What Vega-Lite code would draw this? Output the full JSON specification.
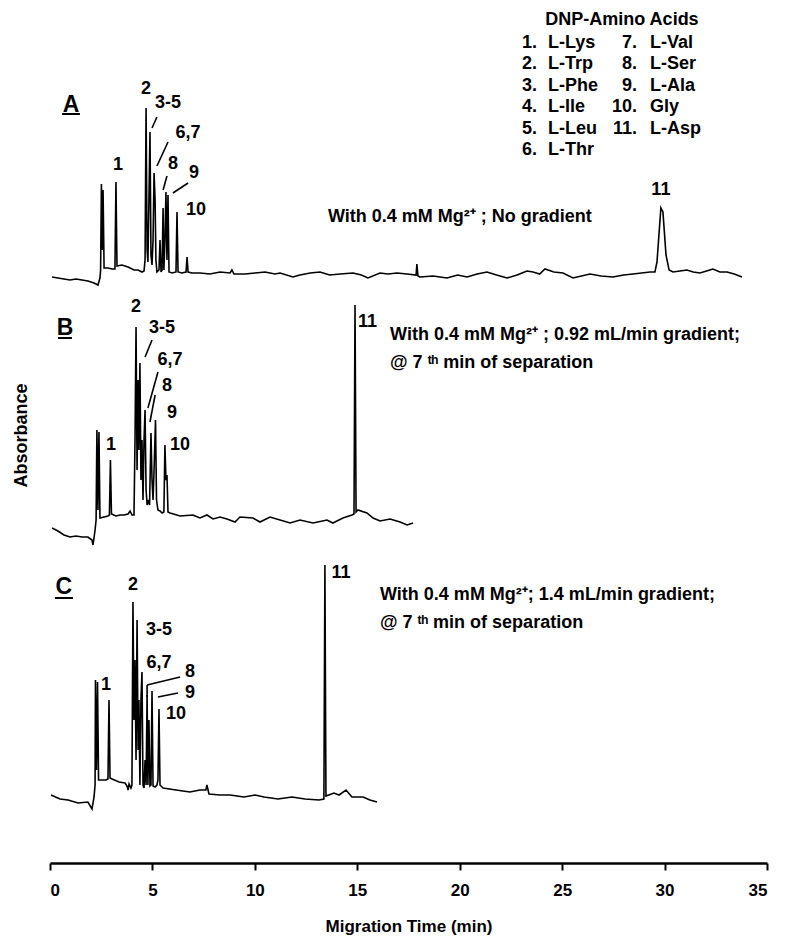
{
  "$schema": "https://vega.github.io/schema/vega-lite/v6.json",
  "width": 717,
  "height": 863,
  "autosize": {"type": "none"},
  "padding": {"left": 50, "top": 0, "right": 19, "bottom": 73},
  "background": "white",
  "config": {
    "view": {"stroke": null},
    "text": {"font": "Liberation Sans", "fontWeight": "bold", "color": "black"}
  },
  "datasets": {
    "trace": [
      {"p":"A","t":0.10,"v":586},{"p":"A","t":0.39,"v":585},{"p":"A","t":0.68,"v":584},{"p":"A","t":0.98,"v":583},{"p":"A","t":1.27,"v":584},{"p":"A","t":1.56,"v":583},{"p":"A","t":1.85,"v":582},{"p":"A","t":2.15,"v":580},{"p":"A","t":2.34,"v":578},{"p":"A","t":2.44,"v":585},{"p":"A","t":2.47,"v":593},{"p":"A","t":2.51,"v":679},{"p":"A","t":2.56,"v":613},{"p":"A","t":2.59,"v":673},{"p":"A","t":2.64,"v":595},{"p":"A","t":2.83,"v":595},{"p":"A","t":3.03,"v":594},{"p":"A","t":3.17,"v":594},{"p":"A","t":3.22,"v":681},{"p":"A","t":3.27,"v":597},{"p":"A","t":3.51,"v":598},{"p":"A","t":3.81,"v":596},{"p":"A","t":4.10,"v":593},{"p":"A","t":4.30,"v":593},{"p":"A","t":4.49,"v":591},{"p":"A","t":4.59,"v":592},{"p":"A","t":4.64,"v":603},{"p":"A","t":4.69,"v":755},{"p":"A","t":4.74,"v":613},{"p":"A","t":4.78,"v":601},{"p":"A","t":4.83,"v":663},{"p":"A","t":4.88,"v":731},{"p":"A","t":4.93,"v":608},{"p":"A","t":4.98,"v":598},{"p":"A","t":5.03,"v":623},{"p":"A","t":5.08,"v":690},{"p":"A","t":5.13,"v":663},{"p":"A","t":5.17,"v":603},{"p":"A","t":5.22,"v":591},{"p":"A","t":5.32,"v":593},{"p":"A","t":5.37,"v":623},{"p":"A","t":5.42,"v":591},{"p":"A","t":5.47,"v":593},{"p":"A","t":5.52,"v":655},{"p":"A","t":5.56,"v":593},{"p":"A","t":5.61,"v":623},{"p":"A","t":5.66,"v":671},{"p":"A","t":5.71,"v":603},{"p":"A","t":5.76,"v":668},{"p":"A","t":5.81,"v":591},{"p":"A","t":5.96,"v":590},{"p":"A","t":6.15,"v":591},{"p":"A","t":6.20,"v":651},{"p":"A","t":6.25,"v":591},{"p":"A","t":6.44,"v":590},{"p":"A","t":6.64,"v":591},{"p":"A","t":6.69,"v":606},{"p":"A","t":6.74,"v":591},{"p":"A","t":6.93,"v":590},{"p":"A","t":7.32,"v":590},{"p":"A","t":7.81,"v":589},{"p":"A","t":8.30,"v":591},{"p":"A","t":8.79,"v":590},{"p":"A","t":8.88,"v":593},{"p":"A","t":8.98,"v":589},{"p":"A","t":9.52,"v":589},{"p":"A","t":10.01,"v":590},{"p":"A","t":10.50,"v":591},{"p":"A","t":10.98,"v":589},{"p":"A","t":11.23,"v":590},{"p":"A","t":11.86,"v":586},{"p":"A","t":12.20,"v":588},{"p":"A","t":12.70,"v":590},{"p":"A","t":13.18,"v":591},{"p":"A","t":13.65,"v":588},{"p":"A","t":14.16,"v":589},{"p":"A","t":14.79,"v":590},{"p":"A","t":15.20,"v":588},{"p":"A","t":15.52,"v":585},{"p":"A","t":16.11,"v":590},{"p":"A","t":16.50,"v":589},{"p":"A","t":16.94,"v":590},{"p":"A","t":17.43,"v":589},{"p":"A","t":17.87,"v":588},{"p":"A","t":17.91,"v":599},{"p":"A","t":17.96,"v":587},{"p":"A","t":18.06,"v":586},{"p":"A","t":18.70,"v":587},{"p":"A","t":19.38,"v":585},{"p":"A","t":19.90,"v":588},{"p":"A","t":20.36,"v":586},{"p":"A","t":20.85,"v":589},{"p":"A","t":21.33,"v":591},{"p":"A","t":21.80,"v":588},{"p":"A","t":22.31,"v":585},{"p":"A","t":22.80,"v":588},{"p":"A","t":23.28,"v":592},{"p":"A","t":23.58,"v":591},{"p":"A","t":23.90,"v":589},{"p":"A","t":24.16,"v":594},{"p":"A","t":24.60,"v":591},{"p":"A","t":25.04,"v":590},{"p":"A","t":25.53,"v":585},{"p":"A","t":26.36,"v":589},{"p":"A","t":26.90,"v":587},{"p":"A","t":27.48,"v":586},{"p":"A","t":28.00,"v":588},{"p":"A","t":28.46,"v":589},{"p":"A","t":29.29,"v":591},{"p":"A","t":29.53,"v":591},{"p":"A","t":29.63,"v":601},{"p":"A","t":29.82,"v":655},{"p":"A","t":29.92,"v":651},{"p":"A","t":30.07,"v":608},{"p":"A","t":30.22,"v":593},{"p":"A","t":30.41,"v":591},{"p":"A","t":30.75,"v":592},{"p":"A","t":31.09,"v":593},{"p":"A","t":31.40,"v":591},{"p":"A","t":31.73,"v":590},{"p":"A","t":32.05,"v":592},{"p":"A","t":32.36,"v":594},{"p":"A","t":32.70,"v":591},{"p":"A","t":33.05,"v":591},{"p":"A","t":33.40,"v":589},{"p":"A","t":33.78,"v":586},
      {"p":"B","t":0.10,"v":335},{"p":"B","t":0.39,"v":332},{"p":"B","t":0.68,"v":328},{"p":"B","t":0.98,"v":326},{"p":"B","t":1.27,"v":327},{"p":"B","t":1.56,"v":326},{"p":"B","t":1.85,"v":326},{"p":"B","t":2.05,"v":323},{"p":"B","t":2.10,"v":318},{"p":"B","t":2.20,"v":333},{"p":"B","t":2.25,"v":343},{"p":"B","t":2.29,"v":433},{"p":"B","t":2.34,"v":353},{"p":"B","t":2.39,"v":431},{"p":"B","t":2.44,"v":345},{"p":"B","t":2.64,"v":346},{"p":"B","t":2.83,"v":347},{"p":"B","t":2.90,"v":348},{"p":"B","t":2.95,"v":403},{"p":"B","t":3.00,"v":349},{"p":"B","t":3.22,"v":347},{"p":"B","t":3.42,"v":348},{"p":"B","t":3.61,"v":348},{"p":"B","t":3.81,"v":349},{"p":"B","t":3.91,"v":352},{"p":"B","t":4.00,"v":348},{"p":"B","t":4.10,"v":348},{"p":"B","t":4.15,"v":423},{"p":"B","t":4.20,"v":536},{"p":"B","t":4.25,"v":393},{"p":"B","t":4.30,"v":483},{"p":"B","t":4.34,"v":413},{"p":"B","t":4.39,"v":500},{"p":"B","t":4.44,"v":383},{"p":"B","t":4.49,"v":423},{"p":"B","t":4.54,"v":363},{"p":"B","t":4.59,"v":423},{"p":"B","t":4.64,"v":453},{"p":"B","t":4.69,"v":373},{"p":"B","t":4.74,"v":358},{"p":"B","t":4.78,"v":363},{"p":"B","t":4.86,"v":358},{"p":"B","t":4.93,"v":430},{"p":"B","t":4.98,"v":383},{"p":"B","t":5.03,"v":363},{"p":"B","t":5.08,"v":393},{"p":"B","t":5.15,"v":443},{"p":"B","t":5.20,"v":363},{"p":"B","t":5.27,"v":353},{"p":"B","t":5.37,"v":352},{"p":"B","t":5.47,"v":350},{"p":"B","t":5.56,"v":351},{"p":"B","t":5.61,"v":418},{"p":"B","t":5.66,"v":383},{"p":"B","t":5.71,"v":388},{"p":"B","t":5.76,"v":351},{"p":"B","t":5.86,"v":350},{"p":"B","t":6.35,"v":347},{"p":"B","t":6.98,"v":348},{"p":"B","t":7.32,"v":345},{"p":"B","t":7.66,"v":348},{"p":"B","t":7.96,"v":344},{"p":"B","t":8.30,"v":346},{"p":"B","t":8.64,"v":344},{"p":"B","t":9.03,"v":341},{"p":"B","t":9.27,"v":346},{"p":"B","t":9.91,"v":345},{"p":"B","t":10.25,"v":341},{"p":"B","t":10.74,"v":346},{"p":"B","t":11.23,"v":343},{"p":"B","t":11.72,"v":340},{"p":"B","t":12.20,"v":343},{"p":"B","t":12.84,"v":340},{"p":"B","t":13.52,"v":343},{"p":"B","t":13.81,"v":340},{"p":"B","t":14.30,"v":345},{"p":"B","t":14.74,"v":348},{"p":"B","t":14.84,"v":349},{"p":"B","t":14.89,"v":558},{"p":"B","t":14.94,"v":351},{"p":"B","t":15.03,"v":353},{"p":"B","t":15.47,"v":350},{"p":"B","t":15.77,"v":345},{"p":"B","t":16.11,"v":342},{"p":"B","t":16.60,"v":344},{"p":"B","t":17.09,"v":341},{"p":"B","t":17.43,"v":338},{"p":"B","t":17.72,"v":340},
      {"p":"C","t":0.05,"v":68},{"p":"C","t":0.49,"v":64},{"p":"C","t":0.88,"v":63},{"p":"C","t":1.37,"v":60},{"p":"C","t":1.85,"v":61},{"p":"C","t":2.05,"v":54},{"p":"C","t":2.15,"v":66},{"p":"C","t":2.20,"v":78},{"p":"C","t":2.22,"v":183},{"p":"C","t":2.27,"v":93},{"p":"C","t":2.32,"v":181},{"p":"C","t":2.37,"v":83},{"p":"C","t":2.54,"v":83},{"p":"C","t":2.73,"v":83},{"p":"C","t":2.83,"v":84},{"p":"C","t":2.88,"v":163},{"p":"C","t":2.93,"v":85},{"p":"C","t":3.03,"v":84},{"p":"C","t":3.37,"v":81},{"p":"C","t":3.66,"v":80},{"p":"C","t":3.76,"v":77},{"p":"C","t":3.81,"v":73},{"p":"C","t":3.86,"v":79},{"p":"C","t":3.95,"v":75},{"p":"C","t":4.00,"v":78},{"p":"C","t":4.05,"v":261},{"p":"C","t":4.10,"v":143},{"p":"C","t":4.15,"v":203},{"p":"C","t":4.20,"v":103},{"p":"C","t":4.25,"v":243},{"p":"C","t":4.30,"v":113},{"p":"C","t":4.34,"v":163},{"p":"C","t":4.39,"v":78},{"p":"C","t":4.44,"v":163},{"p":"C","t":4.49,"v":191},{"p":"C","t":4.54,"v":78},{"p":"C","t":4.59,"v":75},{"p":"C","t":4.64,"v":103},{"p":"C","t":4.69,"v":78},{"p":"C","t":4.74,"v":168},{"p":"C","t":4.78,"v":78},{"p":"C","t":4.83,"v":143},{"p":"C","t":4.88,"v":77},{"p":"C","t":4.93,"v":78},{"p":"C","t":4.98,"v":172},{"p":"C","t":5.03,"v":77},{"p":"C","t":5.13,"v":76},{"p":"C","t":5.22,"v":78},{"p":"C","t":5.27,"v":83},{"p":"C","t":5.32,"v":154},{"p":"C","t":5.37,"v":78},{"p":"C","t":5.52,"v":75},{"p":"C","t":6.15,"v":73},{"p":"C","t":6.83,"v":71},{"p":"C","t":7.32,"v":73},{"p":"C","t":7.61,"v":73},{"p":"C","t":7.66,"v":78},{"p":"C","t":7.76,"v":69},{"p":"C","t":8.30,"v":68},{"p":"C","t":8.79,"v":68},{"p":"C","t":9.47,"v":66},{"p":"C","t":10.01,"v":68},{"p":"C","t":10.45,"v":66},{"p":"C","t":11.13,"v":64},{"p":"C","t":11.81,"v":66},{"p":"C","t":12.45,"v":64},{"p":"C","t":13.13,"v":63},{"p":"C","t":13.37,"v":64},{"p":"C","t":13.42,"v":298},{"p":"C","t":13.47,"v":67},{"p":"C","t":13.86,"v":70},{"p":"C","t":14.11,"v":68},{"p":"C","t":14.45,"v":73},{"p":"C","t":14.74,"v":66},{"p":"C","t":15.28,"v":66},{"p":"C","t":15.62,"v":63},{"p":"C","t":15.96,"v":61}
    ],
    "peaks": [
      {"t":3.32,"v":698,"text":"1"},{"t":4.69,"v":774,"text":"2"},{"t":5.76,"v":760,"text":"3-5"},{"t":6.74,"v":730,"text":"6,7"},{"t":6.00,"v":699,"text":"8"},{"t":7.03,"v":690,"text":"9"},{"t":7.13,"v":653,"text":"10"},{"t":29.82,"v":673,"text":"11"},
      {"t":4.20,"v":556,"text":"2"},{"t":5.47,"v":535,"text":"3-5"},{"t":5.86,"v":503,"text":"6,7"},{"t":5.71,"v":477,"text":"8"},{"t":5.96,"v":450,"text":"9"},{"t":6.35,"v":418,"text":"10"},{"t":2.98,"v":418,"text":"1"},{"t":15.50,"v":541,"text":"11"},
      {"t":4.05,"v":278,"text":"2"},{"t":5.32,"v":233,"text":"3-5"},{"t":5.32,"v":200,"text":"6,7"},{"t":6.83,"v":191,"text":"8"},{"t":6.83,"v":170,"text":"9"},{"t":6.15,"v":149,"text":"10"},{"t":2.73,"v":178,"text":"1"},{"t":14.20,"v":290,"text":"11"}
    ],
    "leaders": [
      {"t":4.98,"v":735,"t2":5.22,"v2":746},{"t":5.22,"v":697,"t2":5.76,"v2":721},{"t":5.52,"v":673,"t2":5.71,"v2":687},{"t":6.00,"v":670,"t2":6.74,"v2":680},
      {"t":4.64,"v":506,"t2":4.98,"v2":523},{"t":4.78,"v":455,"t2":5.27,"v2":491},{"t":4.88,"v":441,"t2":5.13,"v2":468},
      {"t":4.74,"v":166,"t2":4.74,"v2":178},{"t":4.74,"v":178,"t2":6.35,"v2":186},{"t":5.27,"v":166,"t2":6.25,"v2":170}
    ],
    "panels": [
      {"t":1.03,"v":758,"text":"A"},{"t":0.73,"v":535,"text":"B"},{"t":0.68,"v":276,"text":"C"}
    ],
    "underlines": [
      {"t":0.59,"t2":1.46,"v":749},{"t":0.39,"t2":1.07,"v":525},{"t":0.24,"t2":1.12,"v":265}
    ],
    "conditions": [
      {"t":13.57,"v":646,"text":"With 0.4 mM Mg²⁺ ; No gradient"},
      {"t":16.60,"v":528,"text":"With 0.4 mM Mg²⁺ ; 0.92 mL/min gradient;"},
      {"t":16.60,"v":500,"text":"@ 7 ᵗʰ min of separation"},
      {"t":16.11,"v":268,"text":"With 0.4 mM Mg²⁺; 1.4 mL/min gradient;"},
      {"t":16.11,"v":240,"text":"@ 7 ᵗʰ min of separation"}
    ],
    "legendTitle": [{"t":27.92,"v":843,"text":"DNP-Amino Acids"}],
    "legendNum": [
      {"t":23.77,"v":820.5,"text":"1."},{"t":23.77,"v":799,"text":"2."},{"t":23.77,"v":777.5,"text":"3."},{"t":23.77,"v":756,"text":"4."},{"t":23.77,"v":734.5,"text":"5."},{"t":23.77,"v":713,"text":"6."},
      {"t":28.65,"v":820.5,"text":"7."},{"t":28.65,"v":799,"text":"8."},{"t":28.65,"v":777.5,"text":"9."},{"t":28.65,"v":756,"text":"10."},{"t":28.65,"v":734.5,"text":"11."}
    ],
    "legendName": [
      {"t":24.31,"v":820.5,"text":"L-Lys"},{"t":24.31,"v":799,"text":"L-Trp"},{"t":24.31,"v":777.5,"text":"L-Phe"},{"t":24.31,"v":756,"text":"L-Ile"},{"t":24.31,"v":734.5,"text":"L-Leu"},{"t":24.31,"v":713,"text":"L-Thr"},
      {"t":29.29,"v":820.5,"text":"L-Val"},{"t":29.29,"v":799,"text":"L-Ser"},{"t":29.29,"v":777.5,"text":"L-Ala"},{"t":29.29,"v":756,"text":"Gly"},{"t":29.29,"v":734.5,"text":"L-Asp"}
    ]
  },
  "encoding": {
    "x": {
      "field": "t", "type": "quantitative",
      "scale": {"domain": [0, 35], "nice": false, "zero": false},
      "axis": {
        "values": [0, 5, 10, 15, 20, 25, 30, 35],
        "title": "Migration Time (min)",
        "grid": false,
        "domainColor": "black", "domainWidth": 2.5,
        "tickColor": "black", "tickWidth": 2, "tickSize": 7,
        "labelFont": "Liberation Sans", "labelFontWeight": "bold", "labelFontSize": 17, "labelColor": "black", "labelPadding": 12,
        "titleFont": "Liberation Sans", "titleFontWeight": "bold", "titleFontSize": 17, "titleColor": "black", "titlePadding": 20
      }
    },
    "y": {
      "field": "v", "type": "quantitative",
      "scale": {"domain": [0, 863], "nice": false, "zero": false},
      "axis": {
        "title": "Absorbance", "domain": false, "ticks": false, "labels": false, "grid": false,
        "titleFont": "Liberation Sans", "titleFontWeight": "bold", "titleFontSize": 18, "titleColor": "black",
        "titleX": -29, "titleY": 435, "titleAngle": 270, "titleAlign": "center", "titleBaseline": "middle"
      }
    }
  },
  "layer": [
    {
      "data": {"name": "trace"},
      "mark": {"type": "line", "color": "black", "strokeWidth": 1.6, "interpolate": "linear"},
      "encoding": {"detail": {"field": "p"}}
    },
    {
      "data": {"name": "leaders"},
      "mark": {"type": "rule", "color": "black", "strokeWidth": 1.6},
      "encoding": {"x2": {"field": "t2"}, "y2": {"field": "v2"}}
    },
    {
      "data": {"name": "underlines"},
      "mark": {"type": "rule", "color": "black", "strokeWidth": 2},
      "encoding": {"x2": {"field": "t2"}}
    },
    {
      "data": {"name": "peaks"},
      "mark": {"type": "text", "fontSize": 18, "align": "center", "baseline": "middle"},
      "encoding": {"text": {"field": "text"}}
    },
    {
      "data": {"name": "panels"},
      "mark": {"type": "text", "fontSize": 23, "align": "center", "baseline": "middle"},
      "encoding": {"text": {"field": "text"}}
    },
    {
      "data": {"name": "conditions"},
      "mark": {"type": "text", "fontSize": 18, "align": "left", "baseline": "middle"},
      "encoding": {"text": {"field": "text"}}
    },
    {
      "data": {"name": "legendTitle"},
      "mark": {"type": "text", "fontSize": 18, "align": "center", "baseline": "middle"},
      "encoding": {"text": {"field": "text"}}
    },
    {
      "data": {"name": "legendNum"},
      "mark": {"type": "text", "fontSize": 18, "align": "right", "baseline": "middle"},
      "encoding": {"text": {"field": "text"}}
    },
    {
      "data": {"name": "legendName"},
      "mark": {"type": "text", "fontSize": 18, "align": "left", "baseline": "middle"},
      "encoding": {"text": {"field": "text"}}
    }
  ]
}
